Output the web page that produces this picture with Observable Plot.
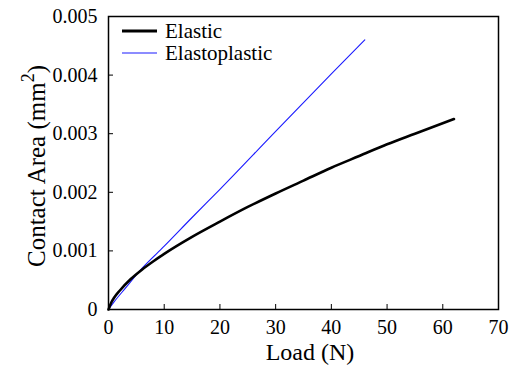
<!DOCTYPE html>
<html><head><meta charset="utf-8">
<script src="https://cdn.jsdelivr.net/npm/d3@7"></script>
<script src="https://cdn.jsdelivr.net/npm/@observablehq/plot@0.6"></script>
<style>
body{margin:0;background:#fff;}
svg, svg text{font-family:"Liberation Serif","Times New Roman","DejaVu Serif",serif !important;}
</style></head>
<body>
<script>
const elasticLoad = [0, 0.5, 1, 2, 4, 6, 8, 10, 15, 20, 25, 30, 35, 40, 45, 50, 55, 62];
const elasticArea = [0, 0.00012, 0.0002, 0.00032, 0.00052, 0.00068, 0.00082, 0.00095, 0.00124, 0.0015, 0.00175, 0.00198, 0.0022, 0.00242, 0.00262, 0.00282, 0.003, 0.00325];
const plasticLoad = [0, 1, 3, 6, 10, 15, 20, 30, 40, 46];
const plasticArea = [0, 0.00013, 0.00036, 0.0007, 0.00108, 0.00157, 0.00205, 0.00304, 0.00402, 0.0046];
const xTicks = [0, 10, 20, 30, 40, 50, 60, 70];
const yTicks = [0, 0.001, 0.002, 0.003, 0.004, 0.005];
const seriesNames = ["Elastic", "Elastoplastic"];
const seriesColors = ["#000", "#1a1aff"];
const seriesWidths = [2.6, 1.1];

const elastic = elasticLoad.map((x, i) => ({x, y: elasticArea[i]}));
const plastic = plasticLoad.map((x, i) => ({x, y: plasticArea[i]}));

const fmtY = d => d === 0 ? "0" : d3.format(".3f")(d);
const FONT = "'Liberation Serif', 'Times New Roman', 'DejaVu Serif', serif";

const chart = Plot.plot({
  width: 512, height: 367,
  marginLeft: 108, marginRight: 14, marginTop: 16, marginBottom: 58,
  style: {fontFamily: FONT, fontSize: "20px", color: "#000", background: "#fff"},
  x: {domain: [0, 70], ticks: xTicks},
  y: {domain: [0, 0.005], ticks: yTicks},
  marks: [
    Plot.axisX({ticks: xTicks, tickSize: -5, tickPadding: 15, label: null, fontSize: 20, strokeWidth: 1}),
    Plot.axisY({ticks: yTicks, tickSize: -5, tickPadding: 16, tickFormat: fmtY, label: null, fontSize: 20, strokeWidth: 1}),
    Plot.line(plastic, {x: "x", y: "y", stroke: seriesColors[1], strokeWidth: seriesWidths[1], curve: "monotone-x"}),
    Plot.line(elastic, {x: "x", y: "y", stroke: seriesColors[0], strokeWidth: seriesWidths[0], curve: "monotone-x"}),
    Plot.frame({stroke: "#000", strokeWidth: 1.5})
  ]
});

const svg = d3.select(chart);
svg.selectAll("text").attr("font-family", FONT).style("font-family", FONT);
svg.append("text").attr("x", 310).attr("y", 360).attr("text-anchor", "middle")
  .attr("font-size", 24).attr("fill", "#000").text("Load (N)");
const yl = svg.append("text").attr("transform", "translate(45,166) rotate(-90)").attr("text-anchor", "middle")
  .attr("font-size", 25).attr("fill", "#000");
yl.append("tspan").text("Contact Area (mm");
yl.append("tspan").attr("font-size", 18).attr("dy", -11).text("2");
yl.append("tspan").attr("dy", 11).text(")");

const lg = svg.append("g");
seriesNames.forEach((n, i) => {
  const yy = 31 + i * 22;
  lg.append("line").attr("x1", 122).attr("x2", 157).attr("y1", yy).attr("y2", yy)
    .attr("stroke", seriesColors[i]).attr("stroke-width", i === 0 ? 3 : 1.1);
  lg.append("text").attr("x", 165).attr("y", yy + 7).attr("text-anchor", "start")
    .attr("font-size", 21).attr("fill", "#000").text(n);
});

document.body.appendChild(chart);
</script></body></html>
